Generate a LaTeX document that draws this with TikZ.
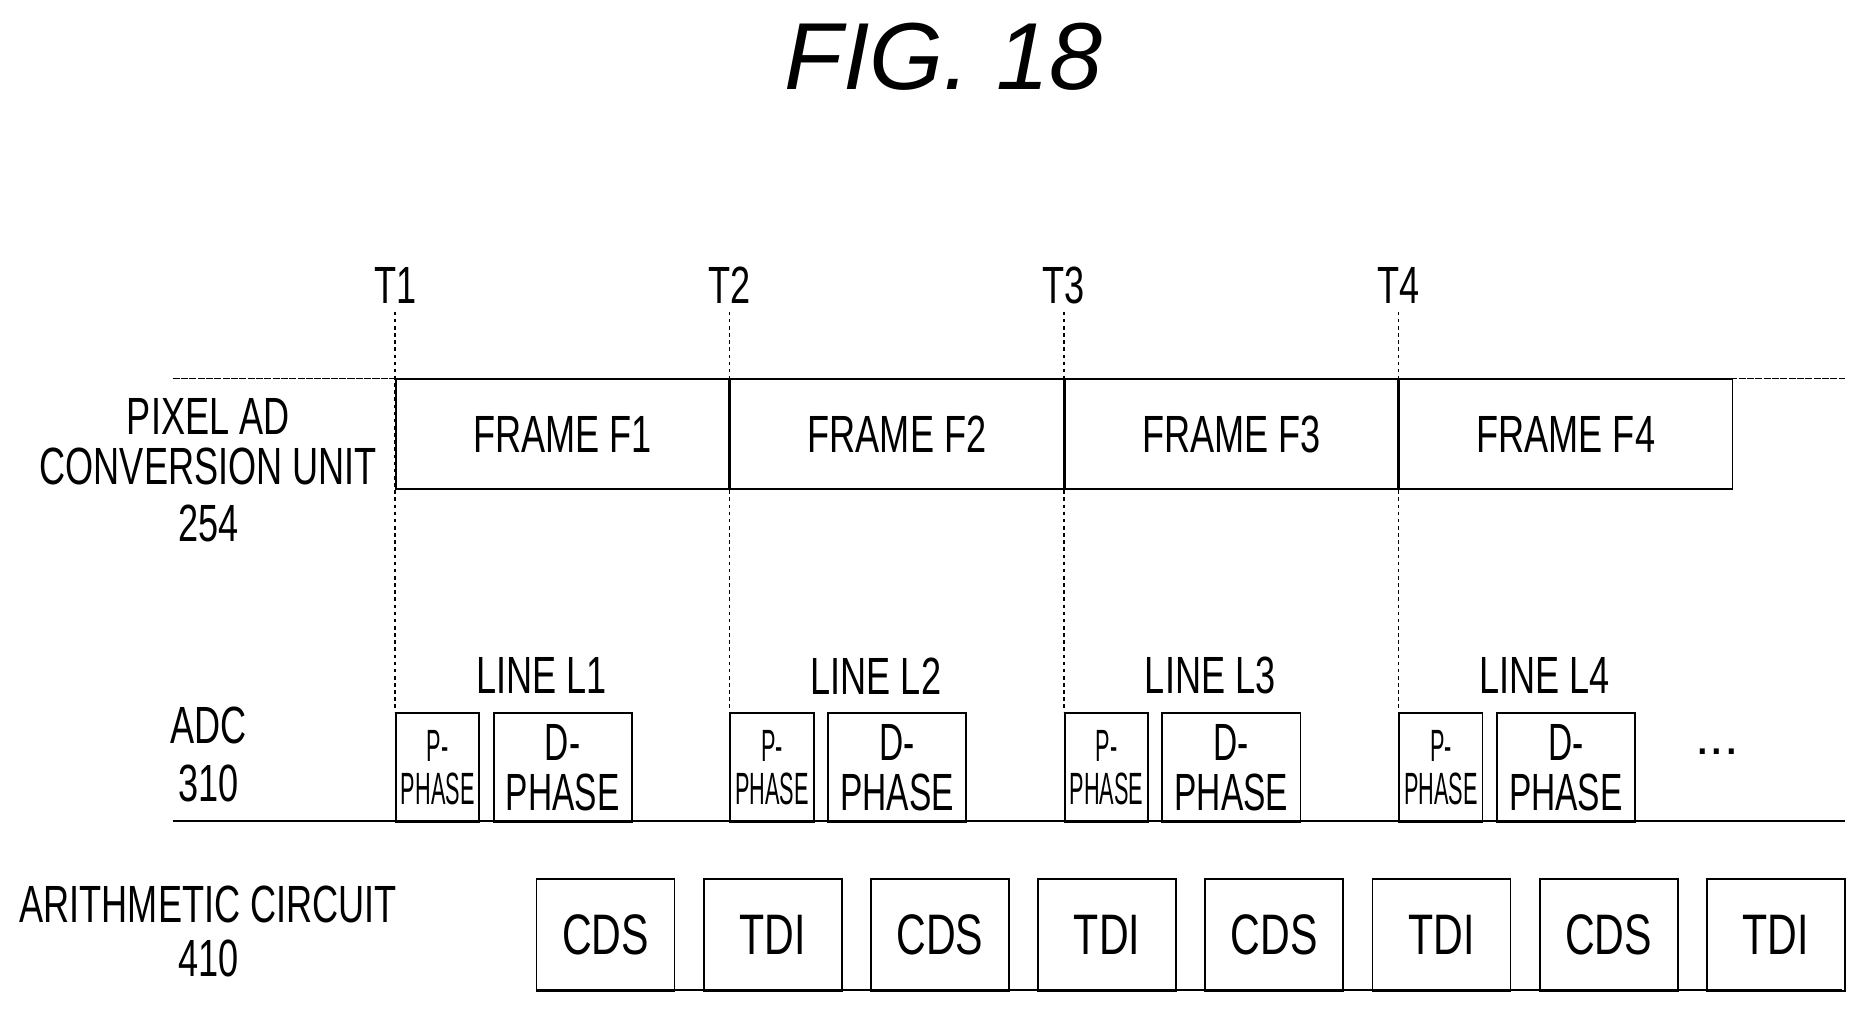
\documentclass[tikz,border=0pt]{standalone}
\usepackage{fontspec}
\setmainfont{Liberation Sans}
\newfontfamily\nar[FakeStretch=0.69]{Liberation Sans}
\newfontfamily\dnar[FakeStretch=0.64]{Liberation Sans}
\newfontfamily\cnar[FakeStretch=0.72]{Liberation Sans}
\newfontfamily\nnar[FakeStretch=0.48]{Liberation Sans}
\begin{document}
\begin{tikzpicture}[x=1pt,y=-1pt,
  lab/.style={font=\nar\fontsize{44}{48}\selectfont,inner sep=0,align=center},
  box/.style={draw,line width=1.6pt,inner sep=0},
  dl/.style={dash pattern=on 3pt off 3pt,line width=1.2pt},
  bl/.style={line width=1.6pt}]
\useasboundingbox (0,0) rectangle (1563,848);
\node[font=\itshape\fontsize{80}{84}\selectfont] (title) at (793,48) {FIG. 18};
% time marks
\foreach \x/\t in {332/1,613/2,894/3,1175/4}{
  \node[lab] (T\t) at (\x,240) {T\t};
  \coordinate (a\t) at (\x,262);
  \coordinate (b\t) at (\x,598);
  \draw[dl] (a\t) -- (b\t);
}
% baselines
\coordinate (l1a) at (145,318); \coordinate (l1b) at (1550,318);
\draw[line width=1pt,dash pattern=on 6pt off 1pt] (l1a) -- (l1b);
\coordinate (l2a) at (145,690); \coordinate (l2b) at (1550,690);
\draw[bl] (l2a) -- (l2b);
\coordinate (l3a) at (450,832); \coordinate (l3b) at (1548,832);
\draw[bl] (l3a) -- (l3b);
% frames
\foreach \x/\i in {332/1,613/2,894/3,1175/4}{
  \node[box,minimum width=280pt,minimum height=92pt,anchor=north west,
        font=\nar\fontsize{44}{48}\selectfont] (F\i) at (\x,318) {FRAME F\i};
  \node[lab] (LL\i) at (\x+123,568) {LINE L\i};
  \node[box,minimum width=70pt,minimum height=92pt,anchor=north west,
        font=\nnar\fontsize{38}{36}\selectfont,align=center] (P\i) at (\x,598) {P-\\PHASE};
  \node[box,minimum width=116pt,minimum height=92pt,anchor=north west,
        font=\dnar\fontsize{44}{42}\selectfont,align=center] (D\i) at (\x+82,598) {D-\\PHASE};
}
\node[font=\fontsize{44}{44}\selectfont] (dots) at (1443,632) {...};
% arithmetic
\foreach \k/\t in {0/CDS,1/TDI,2/CDS,3/TDI,4/CDS,5/TDI,6/CDS,7/TDI}{
  \node[box,minimum width=116pt,minimum height=94pt,anchor=north west,
        font=\cnar\fontsize{48}{48}\selectfont] (A\k) at (450+140.5*\k,738) {\t};
}
% left labels
\node[lab] (pa) at (175,350) {PIXEL AD};
\node[lab] (cu) at (175,392) {CONVERSION UNIT};
\node[lab] (n254) at (175,440) {254};
\node[lab] (adc) at (175,610) {ADC};
\node[lab] (n310) at (175,658) {310};
\node[lab] (ac) at (175,760) {ARITHMETIC CIRCUIT};
\node[lab] (n410) at (175,805) {410};
\end{tikzpicture}
\end{document}
